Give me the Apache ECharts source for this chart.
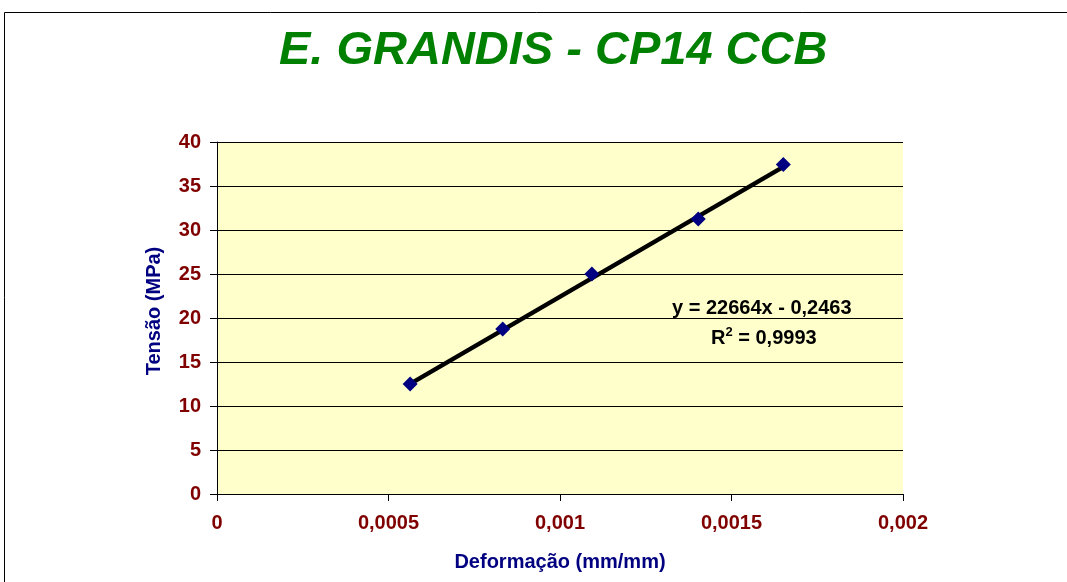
<!DOCTYPE html>
<html>
<head>
<meta charset="utf-8">
<script src="https://cdn.jsdelivr.net/npm/echarts@6/dist/echarts.min.js"></script>
<style>
  html, body { margin: 0; padding: 0; background: #fff; }
  #chart { width: 1067px; height: 582px; }
</style>
</head>
<body>
<div id="chart"></div>
<script>
// measured points (strain, stress)
var deformacao = [0.000563, 0.000833, 0.001093, 0.001403, 0.001651];
var tensao = [12.5, 18.75, 25.0, 31.25, 37.45];
// linear trend line endpoints as drawn
var trendX = [0.000563, 0.001651];
var trendY = [12.51, 37.17];
var equacao = 'y = 22664x - 0,2463';
var r2 = '0,9993';

var pontos = deformacao.map(function(x, i) { return [x, tensao[i]]; });
var tendencia = trendX.map(function(x, i) { return [x, trendY[i]]; });

var FONTE = 'Liberation Sans, Arial, sans-serif';

function comVirgula(v) {
	return String(v).replace('.', ',');
}

var chart = echarts.init(document.getElementById('chart'));
chart.setOption({
	animation: false,
	title: {
		text: 'E. GRANDIS - CP14 CCB',
		left: 274,
		top: 23,
		textStyle: {
			fontFamily: FONTE,
			fontSize: 47,
			fontWeight: 'bold',
			fontStyle: 'italic',
			color: '#008000'
		}
	},
	grid: {
		left: 217,
		right: 164,
		top: 142,
		bottom: 88,
		show: true,
		backgroundColor: '#FFFFCC',
		borderWidth: 0
	},
	xAxis: {
		type: 'value',
		min: 0,
		max: 0.002,
		interval: 0.0005,
		name: 'Deformação (mm/mm)',
		nameLocation: 'middle',
		nameGap: 58,
		nameTextStyle: {
			fontFamily: FONTE,
			fontSize: 20,
			fontWeight: 'bold',
			color: '#000080'
		},
		axisLine: { show: true, lineStyle: { color: '#000', width: 1 } },
		axisTick: { show: true, length: 7, lineStyle: { color: '#000' } },
		splitLine: { show: false },
		axisLabel: {
			margin: 19,
			fontFamily: FONTE,
			fontSize: 20,
			fontWeight: 'bold',
			color: '#800000',
			formatter: comVirgula
		}
	},
	yAxis: {
		type: 'value',
		min: 0,
		max: 40,
		interval: 5,
		name: 'Tensão (MPa)',
		nameLocation: 'middle',
		nameGap: 53,
		nameTextStyle: {
			fontFamily: FONTE,
			fontSize: 20,
			fontWeight: 'bold',
			color: '#000080',
			padding: [0, 0, 0, 14]
		},
		axisLine: { show: true, lineStyle: { color: '#000', width: 1 } },
		axisTick: { show: true, length: 7, lineStyle: { color: '#000' } },
		splitLine: { show: true, lineStyle: { color: '#000', width: 1 } },
		axisLabel: {
			margin: 16,
			fontFamily: FONTE,
			fontSize: 20,
			fontWeight: 'bold',
			color: '#800000'
		}
	},
	series: [{
		name: 'tendencia',
		type: 'line',
		data: tendencia,
		symbol: 'none',
		lineStyle: { color: '#000', width: 4.5 },
		z: 2
	}, {
		name: 'pontos',
		type: 'scatter',
		data: pontos,
		symbol: 'diamond',
		symbolSize: [15, 15],
		itemStyle: { color: '#000080', opacity: 1 },
		z: 3
	}],
	graphic: [{
		type: 'rect',
		shape: { x: 4.5, y: 12.5, width: 1200, height: 700 },
		style: { fill: null, stroke: '#000', lineWidth: 1 },
		z: 100
	}, {
		type: 'text',
		left: 672,
		top: 298,
		style: {
			text: equacao,
			font: 'bold 20px ' + FONTE,
			fill: '#000'
		},
		z: 100
	}, {
		type: 'text',
		left: 711,
		top: 326,
		style: {
			text: '{b|R}{s|2}{b| = ' + r2 + '}',
			rich: {
				b: { font: 'bold 20px ' + FONTE, fill: '#000', verticalAlign: 'bottom' },
				s: { font: 'bold 13px ' + FONTE, fill: '#000', verticalAlign: 'top', padding: [0, 0, 9, 0] }
			}
		},
		z: 100
	}]
});
</script>
</body>
</html>
